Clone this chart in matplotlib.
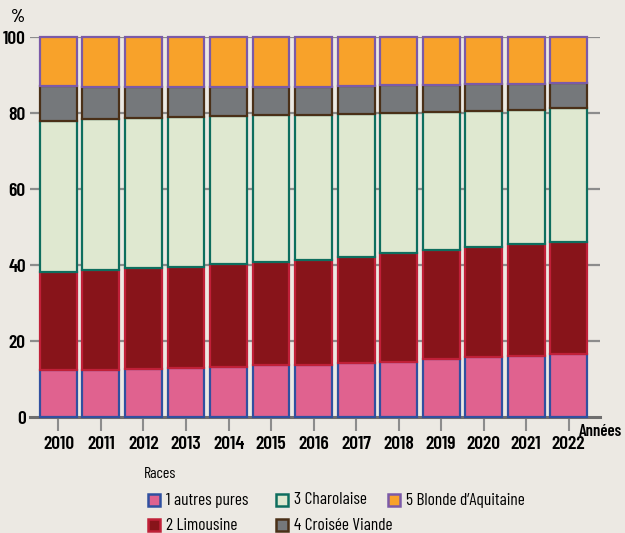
import matplotlib
matplotlib.use('Agg')
import matplotlib.pyplot as plt
from matplotlib.patches import Rectangle
import numpy as np

years = ['2010', '2011', '2012', '2013', '2014', '2015', '2016',
         '2017', '2018', '2019', '2020', '2021', '2022']
autres = [12.4, 12.5, 12.6, 12.9, 13.2, 13.6, 13.8, 14.1, 14.6, 15.2, 15.7, 16.0, 16.6]
limousine = [25.8, 26.2, 26.5, 26.7, 27.0, 27.1, 27.4, 28.1, 28.6, 28.8, 29.1, 29.4, 29.5]
charolaise = [39.8, 39.6, 39.5, 39.3, 39.0, 38.7, 38.3, 37.5, 36.9, 36.3, 35.8, 35.5, 35.1]
croisee = [9.1, 8.6, 8.2, 7.9, 7.7, 7.5, 7.4, 7.4, 7.2, 7.1, 7.0, 6.7, 6.8]
blonde = [12.9, 13.1, 13.2, 13.2, 13.1, 13.1, 13.1, 12.9, 12.7, 12.6, 12.4, 12.4, 12.0]

labels = ['1 autres pures', '2 Limousine', '3 Charolaise', '4 Croisée Viande',
          '5 Blonde d\u2019Aquitaine']
faces = ['#e0628f', '#88141a', '#dfe8d0', '#75787b', '#f8a22a']
edges = ['#3050a0', '#c02038', '#0e6e5e', '#4a3018', '#7b5aa8']
yticks = [0, 20, 40, 60, 80, 100]

bg = '#ece9e3'
plt.rcParams['font.family'] = ['Barlow Condensed', 'DejaVu Sans']

fig = plt.figure(figsize=(6.25, 5.33), dpi=100, facecolor=bg)
ax = fig.add_axes([30 / 625, 116 / 533, 570 / 625, 380 / 533])
ax.set_facecolor(bg)
ax.set_xlim(-0.67, 12.74)
ax.set_ylim(0, 100)

x = np.arange(len(years))
series = [autres, limousine, charolaise, croisee, blonde]
bottom = np.zeros(len(years))
for vals, fc, ec in zip(series, faces, edges):
    ax.bar(x, vals, width=0.87, bottom=bottom, color=fc, edgecolor=ec,
           linewidth=1.6, zorder=3, clip_on=False)
    bottom += np.array(vals)

for v in yticks[1:]:
    ax.axhline(v, color='#8c8c8c', linewidth=1.6, zorder=1)
ax.axhline(0, color='#6e6e6e', linewidth=2.2, zorder=2, clip_on=False)

for s in ax.spines.values():
    s.set_visible(False)
ax.set_yticks(yticks)
ax.set_yticklabels([str(v) for v in yticks], fontsize=14, fontweight='semibold')
ax.tick_params(axis='y', length=0, pad=3)
ax.set_xticks(x)
ax.set_xticklabels(years, fontsize=14, fontweight='semibold')
ax.tick_params(axis='x', length=10, width=1.5, color='#8c8c8c', pad=4)

fig.text(18 / 625, 1 - 17 / 533, '%', fontsize=13, fontweight='semibold',
         ha='center', va='center')
fig.text(622 / 625, 1 - 431 / 533, 'Années', fontsize=12, fontweight='semibold',
         ha='right', va='center')

# legend
fig.text(144 / 625, 1 - 474 / 533, 'Races', fontsize=11.5, ha='left', va='center')
pos = [(148, 500), (148, 525), (276, 500), (276, 525), (388, 500)]
for (px, py), lab, fc, ec in zip(pos, labels, faces, edges):
    fig.patches.append(Rectangle((px / 625, 1 - (py + 6) / 533), 12 / 625, 12 / 533,
                                 transform=fig.transFigure, facecolor=fc,
                                 edgecolor=ec, linewidth=1.8))
    fig.text((px + 18) / 625, 1 - py / 533, lab, fontsize=12.5, ha='left', va='center')

fig.savefig('out.png', dpi=100, facecolor=bg)
